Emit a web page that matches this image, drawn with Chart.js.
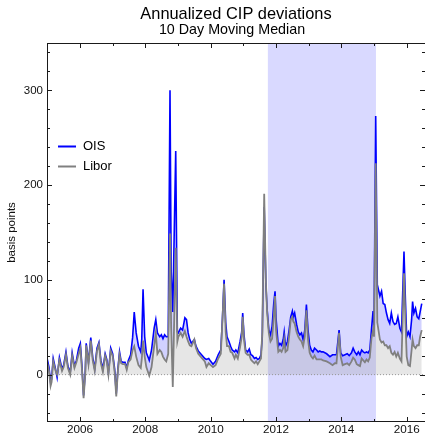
<!DOCTYPE html>
<html><head><meta charset="utf-8">
<script src="https://cdn.jsdelivr.net/npm/chart.js@4.4.0/dist/chart.umd.min.js"></script>
<style>html,body{margin:0;padding:0;background:#fff}</style>
</head><body>
<canvas id="c" width="425" height="437"></canvas>
<script>
// ---- data (decimal years, basis points) ----
const years = [
2005.00,2005.05,2005.10,2005.13,2005.18,2005.25,2005.30,2005.37,2005.45,2005.50,2005.57,2005.63,2005.70,2005.76,2005.83,2005.89,2005.96,
2006.01,2006.06,2006.11,2006.16,2006.19,2006.26,2006.33,2006.39,2006.45,2006.52,2006.58,2006.64,2006.70,2006.77,2006.82,2006.87,2006.94,
2007.00,2007.06,2007.11,2007.16,2007.21,2007.26,2007.31,2007.38,2007.43,2007.48,2007.55,2007.61,2007.66,2007.72,2007.79,2007.86,2007.89,2007.93,2007.98,
2008.03,2008.10,2008.12,2008.19,2008.27,2008.32,2008.37,2008.44,2008.49,2008.54,2008.59,2008.64,2008.70,2008.755,2008.79,2008.84,2008.93,2008.98,
2009.01,2009.08,2009.14,2009.21,2009.26,2009.31,2009.36,2009.41,2009.50,2009.55,2009.62,2009.72,2009.82,2009.87,2009.94,
2010.00,2010.07,2010.15,2010.23,2010.31,2010.36,2010.41,2010.46,2010.50,2010.56,2010.61,2010.66,2010.73,2010.77,2010.83,2010.90,2010.95,2010.98,
2011.02,2011.07,2011.13,2011.18,2011.23,2011.28,2011.34,2011.39,2011.44,2011.49,2011.54,2011.58,2011.638,2011.69,2011.73,2011.78,2011.83,2011.88,2011.93,2011.97,
2012.00,2012.07,2012.12,2012.17,2012.22,2012.25,2012.29,2012.35,2012.40,2012.45,2012.50,2012.53,2012.57,2012.63,2012.68,2012.73,2012.78,2012.83,2012.88,2012.93,2012.98,
2013.03,2013.08,2013.13,2013.18,2013.24,2013.29,2013.34,2013.39,2013.44,2013.55,2013.65,2013.73,2013.80,2013.85,2013.93,2013.98,
2014.04,2014.11,2014.18,2014.24,2014.31,2014.36,2014.41,2014.47,2014.52,2014.57,2014.62,2014.67,2014.72,2014.77,2014.82,2014.87,2014.92,2014.97,
2015.00,2015.051,2015.10,2015.18,2015.23,2015.28,2015.33,2015.38,2015.43,2015.48,2015.53,2015.58,2015.63,2015.68,2015.73,2015.79,2015.84,2015.917,2015.96,
2016.00,2016.05,2016.10,2016.15,2016.18,2016.22,2016.27,2016.32,2016.37,2016.41,2016.46
];
const ois = [
16,8,-8,-5,17,6,-3,18,6,10,24,9,2,23,9,15,28,
33,9,-22,2,33,13,39,18,6,28,34,15,6,22,16,2,28,
22,6,-20,6,24,14,13,13,7,15,21,39,66,44,30,24,37,90,40,
23,17,15,26,49,58,44,40,42,38,42,40,40,300,110,66,236,45,
44,49,47,60,58,44,37,33,37,30,25,21,17,16,17,
14,11,14,21,26,59,100,55,40,35,30,26,24,26,23,35,45,65,
42,26,24,27,21,20,17,18,16,17,21,40,177,95,68,47,42,51,75,88,
60,30,33,31,37,45,30,35,47,61,67,61,65,53,45,42,44,37,47,74,47,
31,26,24,28,26,24,25,24,24,22,19,21,21,21,47,23,
20,21,22,20,23,28,24,21,24,21,26,24,23,24,23,26,47,67,
51,273,95,83,88,75,74,65,58,54,65,56,53,54,61,49,45,130,79,
40,45,40,58,77,65,70,61,59,66,75
];
const libor = [
12,4,-12,-8,14,4,0,15,4,8,21,7,0,20,7,13,22,
28,6,-25,0,31,11,36,15,4,25,32,12,3,20,14,0,25,
20,3,-23,4,21,12,11,11,5,13,16,26,30,19,10,7,16,36,19,
8,1,-1,8,30,44,22,26,24,19,16,14,22,149,50,-13,134,35,
40,44,40,46,40,35,31,30,37,28,22,18,14,8,12,
10,8,10,17,22,58,96,45,30,30,24,23,17,21,17,29,40,61,
37,23,21,21,16,14,12,14,11,14,17,45,191,98,65,44,35,38,61,83,
47,24,26,24,28,37,24,26,40,58,61,56,54,45,40,37,35,30,40,68,37,
23,19,17,20,16,16,16,16,15,14,12,10,12,12,44,19,
10,11,12,10,14,18,16,11,10,9,17,15,13,16,14,18,38,47,
40,223,55,37,34,35,31,31,28,30,23,21,24,19,23,17,14,107,58,
19,10,9,26,37,30,28,31,31,40,47
];
const band = [2011.75, 2015.06];          // shaded period
const xTickYears = [2006, 2008, 2010, 2012, 2014, 2016];
const xMinorYears = [2005, 2007, 2009, 2011, 2013, 2015];
const yTickValues = [0, 100, 200, 300];
const yMinorValues = [-40,-20,20,40,60,80,120,140,160,180,220,240,260,280,320,340];
const seriesNames = ['OIS', 'Libor'];
const xRange = [2004.99, 2016.56];
const yRange = [-50, 350];

const FONT = '"Liberation Sans", Arial, sans-serif';
const toXY = (vals) => years.map((t, i) => ({x: t, y: vals[i]}));

const bandPlugin = {
  id: 'band',
  beforeDatasetsDraw(chart) {
    const {ctx, chartArea: a, scales: {x}} = chart;
    const x0 = x.getPixelForValue(band[0]), x1 = x.getPixelForValue(band[1]);
    ctx.save();
    ctx.fillStyle = 'rgba(0,0,255,0.15)';
    ctx.fillRect(x0, a.top, x1 - x0, a.bottom - a.top);
    ctx.restore();
  }
};

const framePlugin = {
  id: 'frame',
  afterDraw(chart) {
    const {ctx, chartArea: a, scales: {x, y}} = chart;
    ctx.save();
    ctx.strokeStyle = '#1a1a1a';
    ctx.lineWidth = 1;
    ctx.beginPath();
    ctx.moveTo(a.left + 0.5, a.top); ctx.lineTo(a.left + 0.5, a.bottom);
    ctx.moveTo(a.left, a.top + 0.5); ctx.lineTo(a.right, a.top + 0.5);
    ctx.moveTo(a.left, a.bottom - 0.5); ctx.lineTo(a.right, a.bottom - 0.5);
    const xt = (v, len) => {
      const p = Math.round(x.getPixelForValue(v)) + 0.5;
      ctx.moveTo(p, a.bottom); ctx.lineTo(p, a.bottom - len);
      ctx.moveTo(p, a.top); ctx.lineTo(p, a.top + len);
    };
    const yt = (v, len) => {
      const p = Math.round(y.getPixelForValue(v)) + 0.5;
      ctx.moveTo(a.left, p); ctx.lineTo(a.left + len, p);
      ctx.moveTo(a.right, p); ctx.lineTo(a.right - len, p);
    };
    xTickYears.forEach(v => xt(v, 5));
    xMinorYears.forEach(v => xt(v, 3));
    yTickValues.forEach(v => yt(v, 5));
    yMinorValues.forEach(v => yt(v, 3));
    ctx.stroke();

    // titles
    ctx.fillStyle = '#000';
    ctx.textAlign = 'center';
    ctx.textBaseline = 'alphabetic';
    ctx.font = '16.4px ' + FONT;
    ctx.fillText('Annualized CIP deviations', 236, 18.5);
    ctx.font = '14.3px ' + FONT;
    ctx.fillText('10 Day Moving Median', 232, 34);

    // legend
    const ds = chart.data.datasets;
    ctx.textAlign = 'left';
    ctx.textBaseline = 'middle';
    ctx.font = '13px ' + FONT;
    [0, 1].forEach((i, k) => {
      const yy = 146.5 + k * 20;
      ctx.strokeStyle = ds[i].borderColor;
      ctx.lineWidth = 2;
      ctx.beginPath();
      ctx.moveTo(a.left + 11, yy); ctx.lineTo(a.left + 29, yy);
      ctx.stroke();
      ctx.fillStyle = '#000';
      ctx.fillText(ds[i].label, a.left + 36, yy);
    });
    ctx.restore();
  }
};

new Chart(document.getElementById('c'), {
  type: 'line',
  data: {
    datasets: [
      { label: seriesNames[0], data: toXY(ois), borderColor: '#0000ff', borderWidth: 1.6,
        backgroundColor: 'rgba(0,0,255,0.18)', fill: 1, pointRadius: 0, tension: 0, order: 1 },
      { label: seriesNames[1], data: toXY(libor), borderColor: '#808080', borderWidth: 1.8,
        backgroundColor: 'rgba(128,128,128,0.2)', fill: 'origin', pointRadius: 0, tension: 0, order: 0 },
      { label: 'zero', data: [{x: xRange[0], y: 0}, {x: xRange[1], y: 0}], borderColor: '#9a9a9a',
        borderWidth: 1, borderDash: [1, 2], pointRadius: 0, fill: false, order: 2 }
    ]
  },
  options: {
    responsive: false,
    animation: false,
    devicePixelRatio: 1,
    layout: { padding: { top: 43, right: 0, left: 0, bottom: 0 } },
    plugins: { legend: { display: false }, tooltip: { enabled: false }, title: { display: false } },
    scales: {
      x: {
        type: 'linear', min: xRange[0], max: xRange[1],
        grid: { display: false, drawTicks: false }, border: { display: false },
        afterBuildTicks: s => { s.ticks = xTickYears.map(v => ({ value: v })); },
        afterFit: s => { s.height = 15; },
        ticks: { callback: v => String(v), padding: 1, color: '#111', font: { family: FONT, size: 11.7 }, maxRotation: 0, autoSkip: false }
      },
      y: {
        min: yRange[0], max: yRange[1],
        grid: { display: false, drawTicks: false }, border: { display: false },
        afterBuildTicks: s => { s.ticks = yTickValues.map(v => ({ value: v })); },
        afterFit: s => { s.width = 47; },
        ticks: { callback: v => String(v), padding: 4, color: '#111', font: { family: FONT, size: 11.5 } },
        title: { display: true, text: 'basis points', color: '#111', font: { family: FONT, size: 11.5 }, padding: { top: 5, bottom: 0 } }
      }
    }
  },
  plugins: [bandPlugin, framePlugin]
});
</script>
</body></html>
